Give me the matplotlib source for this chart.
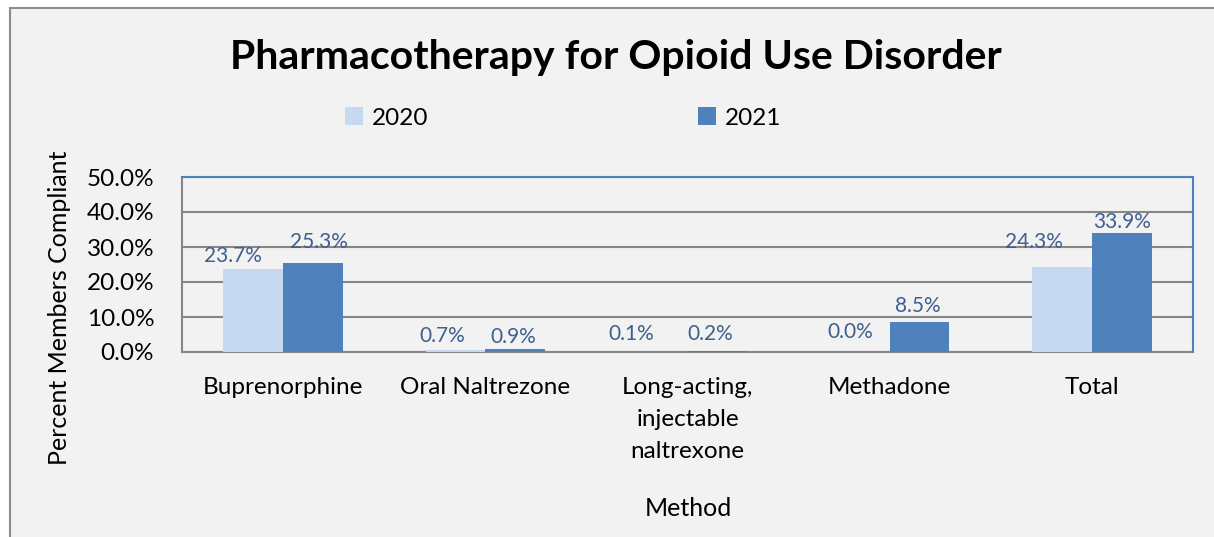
import matplotlib
matplotlib.use('Agg')
import matplotlib.pyplot as plt
from matplotlib.patches import Rectangle
from matplotlib.ticker import FuncFormatter
import numpy as np

plt.rcParams['font.family'] = 'Lato'

categories = ['Buprenorphine', 'Oral Naltrezone', 'Long-acting,\ninjectable\nnaltrexone', 'Methadone', 'Total']
vals_2020 = [23.7, 0.7, 0.1, 0.0, 24.3]
vals_2021 = [25.3, 0.9, 0.2, 8.5, 33.9]
years = ['2020', '2021']
colors = ['#C6D9F0', '#4F81BD']

# label nudges in pixels (Excel placed them a bit unevenly)
nudge_2020 = [(-20, 13), (-13, 14), (-26, 18), (-10, 20), (-28, 25)]
nudge_2021 = [(6, 21), (-2, 12), (-7, 17), (-2, 16), (0, 11)]

W, H = 1214, 537
fig = plt.figure(figsize=(W / 100, H / 100), dpi=100, facecolor='white')

# chart frame
fig.patches.append(Rectangle((10 / W, -0.1), 1.2, 0.1 + (H - 8) / H, transform=fig.transFigure,
                             facecolor='#F2F2F2', edgecolor='#8C8C8C', linewidth=1.5, zorder=-5))

ax = fig.add_axes([182 / W, 1 - 352 / H, (1193 - 182) / W, (352 - 177) / H])
ax.set_facecolor('#F2F2F2')

x = np.arange(len(categories))
bw = 0.295
b1 = ax.bar(x - bw / 2, vals_2020, bw, color=colors[0], label=years[0], zorder=3)
b2 = ax.bar(x + bw / 2, vals_2021, bw, color=colors[1], label=years[1], zorder=3)

ax.set_ylim(0, 50)
ax.set_xlim(-0.5, len(categories) - 0.5)
ax.set_yticks(np.arange(0, 51, 10))
ax.yaxis.set_major_formatter(FuncFormatter(lambda v, p: f'{v:.1f}%'))
ax.grid(axis='y', color='#868686', linewidth=1.5, zorder=1)
ax.tick_params(axis='both', length=0, labelsize=17.5, colors='black', pad=20)
ax.tick_params(axis='x', pad=18)
ax.set_xticks(x)
ax.set_xticklabels(categories, linespacing=1.65, va='top')

for side in ['left', 'bottom']:
    ax.spines[side].set_color('#868686')
    ax.spines[side].set_linewidth(1.5)
for side in ['top', 'right']:
    ax.spines[side].set_color('#4F81BD')
    ax.spines[side].set_linewidth(1.5)

lab_color = '#3F5F8F'
px = 0.72
for i in range(len(categories)):
    for xs, v, (dx, dy) in [(x[i] - bw / 2, vals_2020[i], nudge_2020[i]),
                            (x[i] + bw / 2, vals_2021[i], nudge_2021[i])]:
        ax.annotate(f'{v:.1f}%', (xs, v), xytext=(dx * px, dy * px), textcoords='offset points',
                    ha='center', va='center', fontsize=15, color=lab_color, zorder=4)

fig.text(616 / W, 1 - 57 / H, 'Pharmacotherapy for Opioid Use Disorder', ha='center', va='center',
         fontsize=29.5, fontweight='bold')
fig.text(688 / W, 1 - 508 / H, 'Method', ha='center', va='center', fontsize=18)
fig.text(60 / W, 1 - 308 / H, 'Percent Members Compliant', ha='center', va='center',
         fontsize=18, rotation=90)

fig.legend(handles=[b1, b2], labels=years, loc='center', bbox_to_anchor=(563 / W, 1 - 118 / H),
           ncol=2, frameon=False, fontsize=17.5, handlelength=0.75, handleheight=0.75,
           columnspacing=11.1, handletextpad=0.35)

fig.savefig('out.png', dpi=100, facecolor='white')
